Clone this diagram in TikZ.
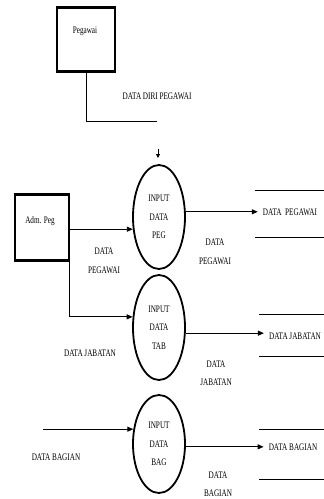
\documentclass[tikz,border=0pt]{standalone}
\usepackage{fontspec}
\setmainfont{Liberation Serif}[FakeStretch=0.72]
\usetikzlibrary{arrows.meta,shapes.geometric}
\begin{document}
\begin{tikzpicture}[x=1pt,y=-1pt,
  lbl/.style={font=\fontsize{10}{18.5}\selectfont, inner sep=0pt, align=center},
  proc/.style={ellipse, draw, line width=1.8pt, minimum width=52pt, minimum height=104pt,
    inner sep=0pt, font=\fontsize{10}{18.5}\selectfont, align=center},
  ent/.style={draw, line width=1.2pt, inner sep=0pt},
  thickedge/.style={line width=3pt},
  flow/.style={line width=0.9pt, -{Triangle[length=6pt,width=5pt]}},
  plain/.style={line width=0.9pt},
  tinyarr/.style={line width=0.8pt, -{Triangle[length=4pt,width=4pt]}}]
\useasboundingbox (0,0) rectangle (324,499);

% entities
\node[ent, minimum width=58pt, minimum height=63pt] (peg) at (86,39.5) {};
\draw[thickedge] (peg.north west) -- (peg.north east);
\draw[thickedge] (peg.south west) -- (peg.south east);
\node[lbl] (pegl) at (85,31) {Pegawai};

\node[ent, minimum width=54pt, minimum height=65pt] (adm) at (42,227.5) {};
\draw[thickedge] (adm.north west) -- (adm.north east);
\draw[thickedge] (adm.south west) -- (adm.south east);
\node[lbl] (adml) at (40,221) {Adm. Peg};

% Pegawai flow
\coordinate (pegend) at (157,121);
\draw[plain] (peg.south) |- (pegend);
\node[lbl] (ddp) at (157,96) {DATA DIRI PEGAWAI};
\coordinate (ta) at (158,149);
\coordinate (tb) at (158,158);
\draw[tinyarr] (ta) -- (tb);

% processes
\node[proc] (e1) at (159,217) {INPUT\\DATA\\PEG};
\node[proc, minimum height=105pt] (e2) at (159,327.5) {INPUT\\DATA\\TAB};
\node[proc, minimum height=98pt] (e3) at (159,444) {INPUT\\DATA\\BAG};

% inputs
\draw[flow] (adm.east |- e1.205) -- (e1.205);
\draw[flow] (adm.south east) |- (e2.158);
\coordinate (src3) at (43,429);
\draw[flow] (src3 |- e3.150) -- (e3.150);

\node[lbl] (lp1) at (104,261) {DATA\\PEGAWAI};
\node[lbl] (lj1) at (90,353) {DATA JABATAN};
\node[lbl] (lb1) at (56,457) {DATA BAGIAN};

% stores
\coordinate (s1a) at (255,190); \coordinate (s1b) at (324,190);
\coordinate (s1c) at (255,237); \coordinate (s1d) at (324,237);
\draw[plain] (s1a) -- (s1b);
\draw[plain] (s1c) -- (s1d);
\node[lbl] (s1) at (290,212) {DATA\ \ PEGAWAI};

\coordinate (s2a) at (259,314); \coordinate (s2b) at (324,314);
\coordinate (s2c) at (259,356); \coordinate (s2d) at (324,356);
\draw[plain] (s2a) -- (s2b);
\draw[plain] (s2c) -- (s2d);
\node[lbl] (s2) at (295,336) {DATA JABATAN};

\coordinate (s3a) at (259,429); \coordinate (s3b) at (324,429);
\coordinate (s3c) at (259,479); \coordinate (s3d) at (324,479);
\draw[plain] (s3a) -- (s3b);
\draw[plain] (s3c) -- (s3d);
\node[lbl] (s3) at (293,447) {DATA BAGIAN};

% outputs
\draw[flow] (e1.11) -- ([xshift=-5pt]s1.west |- e1.11);
\draw[flow] (e2.348) -- ([xshift=-5pt]s2.west |- e2.348);
\draw[flow] (e3.354) -- ([xshift=-5pt]s3.west |- e3.354);

\node[lbl] (op1) at (215,252) {DATA\\PEGAWAI};
\node[lbl] (oj1) at (216,373) {DATA\\JABATAN};
\node[lbl] (ob1) at (218,484) {DATA\\BAGIAN};
\end{tikzpicture}
\end{document}
